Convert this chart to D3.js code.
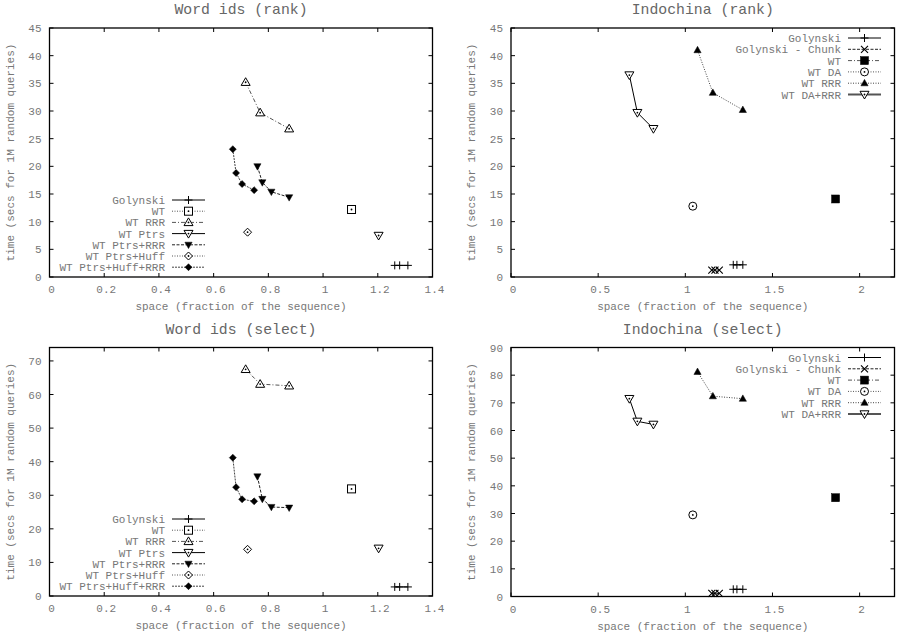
<!DOCTYPE html>
<html>
<head>
<meta charset="utf-8">
<script src="https://cdn.jsdelivr.net/npm/d3@7"></script>
<style>
  body { margin: 0; background: #fff; }
  text { font-family: "Liberation Mono", "DejaVu Sans Mono", monospace; fill: #777; }
</style>
</head>
<body>
<svg id="chart" width="897" height="636"></svg>
<script>
// Word ids: space (fraction of the sequence) per structure, shared by rank and select
const wordGolynskiX = [1.262, 1.280, 1.310];
const wordGolynskiRank = [2.1, 2.1, 2.1];
const wordGolynskiSelect = [2.7, 2.7, 2.7];
const wordWtX = [1.104];
const wordWtRank = [12.2];
const wordWtSelect = [31.9];
const wordRrrX = [0.717, 0.770, 0.876];
const wordRrrRank = [35.2, 29.7, 26.8];
const wordRrrSelect = [67.5, 63.1, 62.6];
const wordPtrsX = [1.203];
const wordPtrsRank = [7.5];
const wordPtrsSelect = [14.2];
const wordPtrsRrrX = [0.760, 0.778, 0.811, 0.876];
const wordPtrsRrrRank = [20.0, 17.1, 15.4, 14.4];
const wordPtrsRrrSelect = [35.6, 28.9, 26.5, 26.3];
const wordHuffX = [0.724];
const wordHuffRank = [8.1];
const wordHuffSelect = [13.9];
const wordHuffRrrX = [0.670, 0.682, 0.704, 0.748];
const wordHuffRrrRank = [23.1, 18.8, 16.8, 15.7];
const wordHuffRrrSelect = [41.2, 32.4, 28.8, 28.2];

// Indochina
const indoGolynskiX = [1.275, 1.296, 1.330];
const indoGolynskiRank = [2.2, 2.2, 2.2];
const indoGolynskiSelect = [2.6, 2.6, 2.6];
const indoChunkX = [1.152, 1.170, 1.195];
const indoChunkRank = [1.25, 1.25, 1.25];
const indoChunkSelect = [1.1, 1.1, 1.1];
const indoWtX = [1.862];
const indoWtRank = [14.1];
const indoWtSelect = [35.7];
const indoDaX = [1.043];
const indoDaRank = [12.8];
const indoDaSelect = [29.5];
const indoRrrX = [1.070, 1.158, 1.330];
const indoRrrRank = [41.0, 33.3, 30.2];
const indoRrrSelect = [81.2, 72.4, 71.5];
const indoDaRrrX = [0.679, 0.725, 0.817];
const indoDaRrrRank = [36.5, 29.7, 26.8];
const indoDaRrrSelect = [71.5, 63.3, 62.2];

const wordNames = ["Golynski", "WT", "WT RRR", "WT Ptrs", "WT Ptrs+RRR", "WT Ptrs+Huff", "WT Ptrs+Huff+RRR"];
const indoNames = ["Golynski", "Golynski - Chunk", "WT", "WT DA", "WT RRR", "WT DA+RRR"];

const svg = d3.select("#chart");

const zip = (xs, ys) => xs.map((x, i) => [x, ys[i]]);

// line / marker style per series
const wordStyles = [
  { mark: "plus", dash: null, color: "#000" },
  { mark: "sqOpen", dash: "1,1.5", color: "#555" },
  { mark: "triOpen", dash: "4,2,1,2", color: "#555" },
  { mark: "dtriOpen", dash: null, color: "#000" },
  { mark: "dtriFill", dash: "3,1.5", color: "#222" },
  { mark: "diaOpen", dash: "1,1.5", color: "#555" },
  { mark: "diaFill", dash: "2,1", color: "#444" }
];
const indoStyles = [
  { mark: "plus", dash: null, color: "#000" },
  { mark: "cross", dash: "3,1.5", color: "#222" },
  { mark: "sqFill", dash: "4,2,1,2", color: "#555" },
  { mark: "circOpen", dash: "1,1.5", color: "#555" },
  { mark: "triFill", dash: "1,1.5", color: "#444" },
  { mark: "dtriOpen", dash: null, color: "#000", legendWidth: 2, legendColor: "#555" }
];

const wordRankData = [
  zip(wordGolynskiX, wordGolynskiRank), zip(wordWtX, wordWtRank), zip(wordRrrX, wordRrrRank),
  zip(wordPtrsX, wordPtrsRank), zip(wordPtrsRrrX, wordPtrsRrrRank), zip(wordHuffX, wordHuffRank),
  zip(wordHuffRrrX, wordHuffRrrRank)
];
const wordSelectData = [
  zip(wordGolynskiX, wordGolynskiSelect), zip(wordWtX, wordWtSelect), zip(wordRrrX, wordRrrSelect),
  zip(wordPtrsX, wordPtrsSelect), zip(wordPtrsRrrX, wordPtrsRrrSelect), zip(wordHuffX, wordHuffSelect),
  zip(wordHuffRrrX, wordHuffRrrSelect)
];
const indoRankData = [
  zip(indoGolynskiX, indoGolynskiRank), zip(indoChunkX, indoChunkRank), zip(indoWtX, indoWtRank),
  zip(indoDaX, indoDaRank), zip(indoRrrX, indoRrrRank), zip(indoDaRrrX, indoDaRrrRank)
];
const indoSelectData = [
  zip(indoGolynskiX, indoGolynskiSelect), zip(indoChunkX, indoChunkSelect), zip(indoWtX, indoWtSelect),
  zip(indoDaX, indoDaSelect), zip(indoRrrX, indoRrrSelect), zip(indoDaRrrX, indoDaRrrSelect)
];

const panels = [
  { title: "Word ids (rank)", x0: 49.5, x1: 432.5, y0: 28, y1: 277, xmax: 1.4, xn: 7, ymax: 45, yn: 9,
    names: wordNames, styles: wordStyles, data: wordRankData, legend: "bl" },
  { title: "Indochina (rank)", x0: 511, x1: 894.5, y0: 28, y1: 277, xmax: 2.2, xn: 5, ymax: 45, yn: 9,
    names: indoNames, styles: indoStyles, data: indoRankData, legend: "tr" },
  { title: "Word ids (select)", x0: 49.5, x1: 432.5, y0: 347.5, y1: 596, xmax: 1.4, xn: 7, ymax: 74, yn: 7,
    names: wordNames, styles: wordStyles, data: wordSelectData, legend: "bl" },
  { title: "Indochina (select)", x0: 511, x1: 894.5, y0: 347.5, y1: 596.5, xmax: 2.2, xn: 5, ymax: 90, yn: 9,
    names: indoNames, styles: indoStyles, data: indoSelectData, legend: "tr" }
];

function drawMark(g, type, cx, cy) {
  const s = g.append("g").attr("transform", `translate(${cx},${cy})`);
  const open = { fill: "#fff", stroke: "#000", "stroke-width": 1 };
  const fill = { fill: "#000", stroke: "#000", "stroke-width": 0.5 };
  const apply = (sel, a) => { Object.entries(a).forEach(([k, v]) => sel.attr(k, v)); return sel; };
  const dot = () => s.append("circle").attr("r", 0.9).attr("fill", "#000");
  switch (type) {
    case "plus":
      s.append("path").attr("d", "M-4,0H4M0,-4V4").attr("stroke", "#000").attr("stroke-width", 1);
      break;
    case "cross":
      s.append("path").attr("d", "M-3.5,-3.5L3.5,3.5M-3.5,3.5L3.5,-3.5").attr("stroke", "#000").attr("stroke-width", 1.1);
      break;
    case "sqOpen":
      apply(s.append("rect").attr("x", -4).attr("y", -4).attr("width", 8).attr("height", 8), open); dot();
      break;
    case "sqFill":
      apply(s.append("rect").attr("x", -4).attr("y", -4).attr("width", 8).attr("height", 8), fill);
      break;
    case "circOpen":
      apply(s.append("circle").attr("r", 4), open); dot();
      break;
    case "triOpen":
      apply(s.append("path").attr("d", "M0,-4.5L4.5,3.2L-4.5,3.2Z"), open); dot();
      break;
    case "triFill":
      apply(s.append("path").attr("d", "M0,-3.8L3.6,2.6L-3.6,2.6Z"), fill);
      break;
    case "dtriOpen":
      apply(s.append("path").attr("d", "M0,4.5L4.5,-3.2L-4.5,-3.2Z"), open); dot();
      break;
    case "dtriFill":
      apply(s.append("path").attr("d", "M0,3.8L3.6,-2.6L-3.6,-2.6Z"), fill);
      break;
    case "diaOpen":
      apply(s.append("path").attr("d", "M0,-4L4,0L0,4L-4,0Z"), open); dot();
      break;
    case "diaFill":
      apply(s.append("path").attr("d", "M0,-3.5L3.5,0L0,3.5L-3.5,0Z"), fill);
      break;
  }
}

panels.forEach(p => {
  const x = d3.scaleLinear().domain([0, p.xmax]).range([p.x0, p.x1]);
  const y = d3.scaleLinear().domain([0, p.ymax]).range([p.y1, p.y0]);
  const g = svg.append("g");

  // ticks (inward, mirrored) and labels
  x.ticks(p.xn).forEach(t => {
    const px = x(t);
    g.append("path").attr("d", `M${px},${p.y1}V${p.y1 - 4}M${px},${p.y0}V${p.y0 + 4}`)
      .attr("stroke", "#000").attr("stroke-width", 1);
    g.append("text").attr("x", px + 2).attr("y", p.y1 + 16).attr("text-anchor", "middle")
      .attr("font-size", 11).text(t);
  });
  y.ticks(p.yn).forEach(t => {
    const py = y(t);
    g.append("path").attr("d", `M${p.x0},${py}H${p.x0 + 4}M${p.x1},${py}H${p.x1 - 4}`)
      .attr("stroke", "#000").attr("stroke-width", 1);
    g.append("text").attr("x", p.x0 - 8).attr("y", py + 4).attr("text-anchor", "end")
      .attr("font-size", 11).text(t);
  });

  g.append("rect").attr("x", p.x0).attr("y", p.y0)
    .attr("width", p.x1 - p.x0).attr("height", p.y1 - p.y0)
    .attr("fill", "none").attr("stroke", "#000").attr("stroke-width", 1.3);

  // titles
  const cx = (p.x0 + p.x1) / 2;
  g.append("text").attr("x", cx).attr("y", p.y0 - 14).attr("text-anchor", "middle")
    .attr("font-size", 14.8).style("fill", "#666").text(p.title);
  g.append("text").attr("x", cx).attr("y", p.y1 + 33).attr("text-anchor", "middle")
    .attr("font-size", 11).text("space (fraction of the sequence)");
  g.append("text")
    .attr("transform", `translate(${p.x0 - 36},${(p.y0 + p.y1) / 2}) rotate(-90)`)
    .attr("text-anchor", "middle").attr("font-size", 11)
    .text("time (secs for 1M random queries)");

  // series
  const line = d3.line().x(d => x(d[0])).y(d => y(d[1]));
  p.data.forEach((pts, i) => {
    const st = p.styles[i];
    g.append("path").datum(pts).attr("d", line)
      .attr("fill", "none").attr("stroke", st.color).attr("stroke-width", 1)
      .attr("stroke-dasharray", st.dash);
    pts.forEach(d => drawMark(g, st.mark, x(d[0]), y(d[1])));
  });

  // legend
  const n = p.names.length;
  p.names.forEach((name, i) => {
    const st = p.styles[i];
    let tx, l0, l1, mx, ry;
    if (p.legend === "bl") {
      tx = p.x0 + 115.5; l0 = p.x0 + 122.5; l1 = p.x0 + 155.5; mx = p.x0 + 139;
      ry = p.y1 - 9.8 - (n - 1 - i) * 11.2;
    } else {
      tx = p.x1 - 53.5; l0 = p.x1 - 46.5; l1 = p.x1 - 13.5; mx = p.x1 - 30;
      ry = p.y0 + 10 + i * 11.3;
    }
    g.append("text").attr("x", tx).attr("y", ry + 4).attr("text-anchor", "end")
      .attr("font-size", 11).text(name);
    g.append("path").attr("d", `M${l0},${ry}H${l1}`)
      .attr("stroke", st.legendColor || st.color).attr("stroke-width", st.legendWidth || 1)
      .attr("stroke-dasharray", st.dash);
    drawMark(g, st.mark, mx, ry);
  });
});
</script>
</body>
</html>
